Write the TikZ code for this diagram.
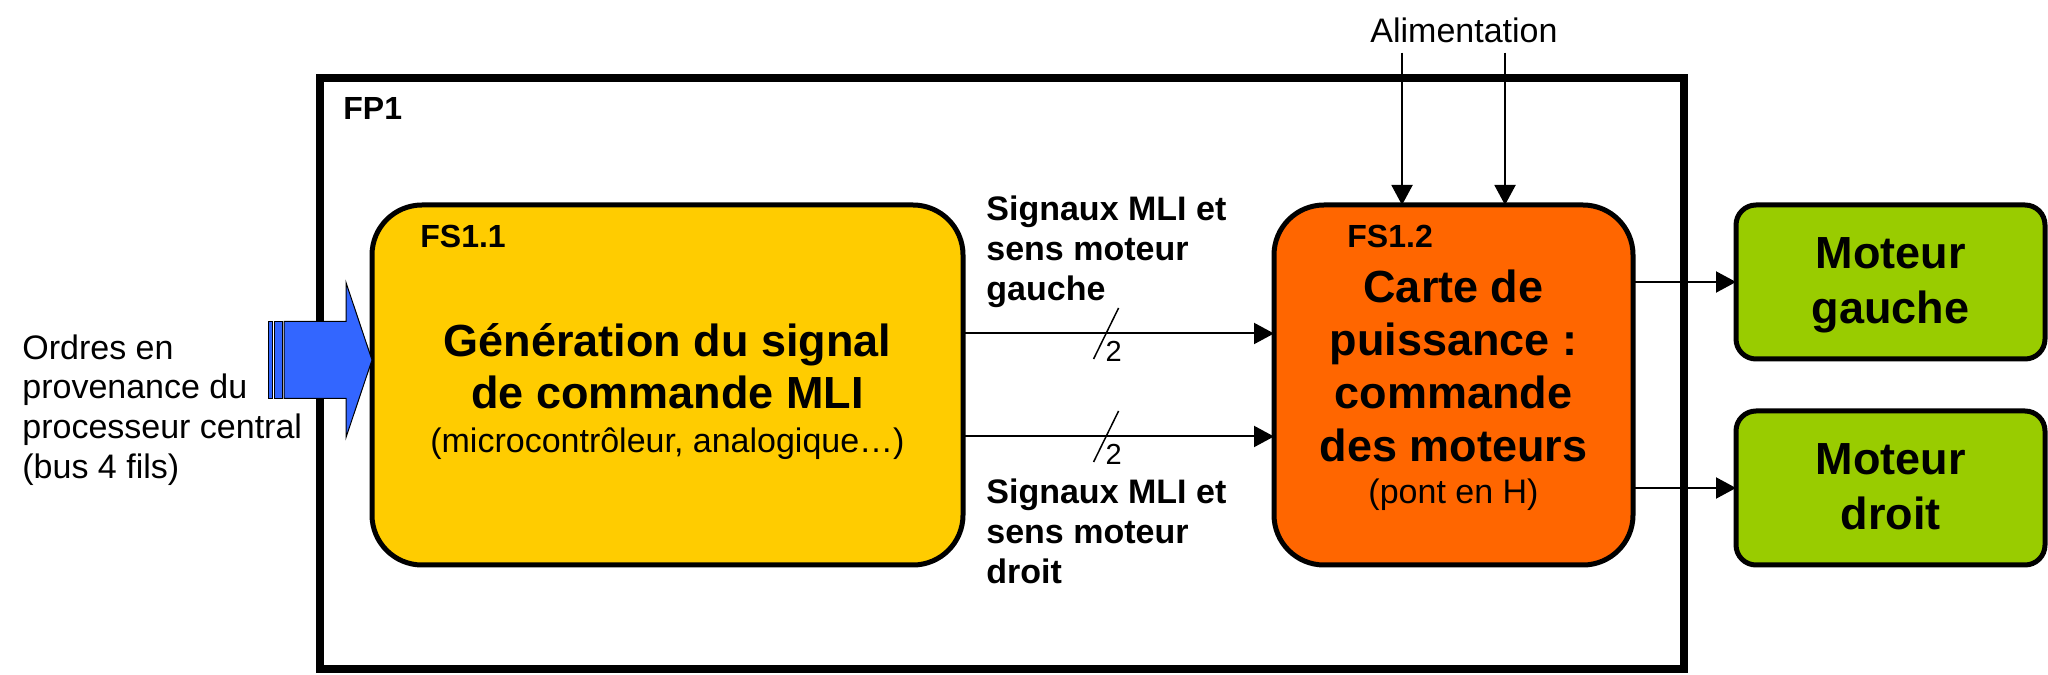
\documentclass[tikz,border=0pt]{standalone}
\usepackage{fontspec}
\setmainfont{Liberation Sans}
\usetikzlibrary{positioning,arrows.meta}
\definecolor{fsyellow}{RGB}{255,204,0}
\definecolor{fsorange}{RGB}{255,102,0}
\definecolor{motgreen}{RGB}{153,204,0}
\definecolor{busblue}{RGB}{51,102,255}

\begin{document}
\begin{tikzpicture}[
x=1pt, y=1pt,
>={Triangle[length=10pt,width=10.5pt]},
block/.style={
	draw, line width=2.5pt, rounded corners=25pt,
	outer sep=0pt, minimum height=180pt
},
motor/.style={
	draw, line width=2.5pt, rounded corners=10pt,
	outer sep=0pt, fill=motgreen,
	minimum width=154.5pt, minimum height=77pt,
	align=center, font=\bfseries\fontsize{22.5}{27.5}\selectfont
},
blocktext/.style={align=center, inner sep=0pt, font=\bfseries\fontsize{22.5}{26}\selectfont},
tag/.style={inner sep=0pt, anchor=base west, font=\bfseries\fontsize{16}{19}\selectfont},
note/.style={inner sep=0pt, align=left, anchor=north west, font=\bfseries\fontsize{17}{20}\selectfont},
txt/.style={inner sep=0pt, align=left, font=\fontsize{17}{19.85}\selectfont},
busnum/.style={inner sep=0pt, font=\fontsize{14.5}{17}\selectfont},
sig/.style={->, line width=1pt}
]
\useasboundingbox (0,0) rectangle (1024,337);
\node[draw, line width=4pt, outer sep=0pt, minimum width=682pt, minimum height=295.5pt] (fp1) at (501,150.25) {};
\node[tag] (fp1tag) at ([shift={(11.5pt,-21pt)}]fp1.north west) {FP1};

\node[block, fill=fsyellow, minimum width=295.5pt] (fs11) at (333.75,144.5) {};
\node[block, fill=fsorange, minimum width=179.5pt, right=155.5pt of fs11] (fs12) {};
\node[motor, right=51.5pt of fs12.north east, anchor=north west] (mg) {\rule{0pt}{19pt}Moteur\\gauche};
\node[motor, below=26pt of mg] (md) {\rule{0pt}{19pt}Moteur\\droit\vphantom{g}};

\node[tag] (fs11tag) at ([shift={(24pt,-21.5pt)}]fs11.north west) {FS1.1};
\node[tag] (fs12tag) at ([shift={(36.5pt,-21.5pt)}]fs12.north west) {FS1.2};
\node[blocktext, yshift=-3.35pt] (fs11txt) at (fs11.center) {Génération du signal\\de commande MLI\\[-4pt]{\mdseries\fontsize{17}{20}\selectfont(microcontrôleur, analogique…)}};
\node[blocktext, font=\bfseries\fontsize{22.5}{26.35}\selectfont, yshift=-2.6pt] (fs12txt) at (fs12.center) {Carte de\\puissance :\\commande\\des moteurs\\[-5.35pt]{\mdseries\fontsize{17}{20}\selectfont(pont en H)}};

% entree : bus 4 fils
\node[txt, anchor=north west] (ordres) at (11,169.9) {Ordres en\\provenance du\\processeur central\\(bus 4 fils)};
\coordinate (tip) at ([yshift=12.5pt]fs11.west);
\filldraw[fill=busblue, line width=.5pt] (tip) -- ++(-13,38.75) -- ++(0,-19.5) -- ++(-31,0) -- ++(0,-38.5) -- ++(31,0) -- ++(0,-19.5) -- cycle;
\filldraw[fill=busblue, line width=.5pt] ([shift={(-49,-19.25)}]tip) rectangle ++(4,38.5);
\filldraw[fill=busblue, line width=.5pt] ([shift={(-52,-19.25)}]tip) rectangle ++(2,38.5);

% signaux MLI
\node[note] (sigg) at ([shift={(11.5pt,94.9pt)}]fs11.east) {Signaux MLI et\\sens moteur\\gauche};
\node[note] (sigd) at ([shift={(11.5pt,-46.6pt)}]fs11.east) {Signaux MLI et\\sens moteur\\droit};
\foreach \s/\i in {25.75/1,-25.75/2}
{
	\coordinate (in\i) at ([yshift=\s pt]fs11.east);
	\draw[sig] (in\i) -- coordinate[pos=.46] (bus\i) (in\i -| fs12.west);
	\draw[line width=.75pt] ([shift={(-6.25pt,-12.75pt)}]bus\i) -- ([shift={(6.25pt,12.75pt)}]bus\i);
	\node[busnum] (n\i) at ([shift={(3.75pt,-8.75pt)}]bus\i) {2};
}

% alimentation
\node[txt, anchor=base, inner sep=4.5pt] (alim) at (732,315.5) {Alimentation};
\foreach \s/\i in {-25.75/1,25.75/2}
{
	\coordinate (pw\i) at ([xshift=\s pt]fs12.north);
	\draw[sig] (alim.south -| pw\i) -- (pw\i);
}

% sorties moteurs
\foreach \m in {mg,md}
	\draw[sig] (fs12.east |- \m.west) -- (\m.west);
\end{tikzpicture}
\end{document}
